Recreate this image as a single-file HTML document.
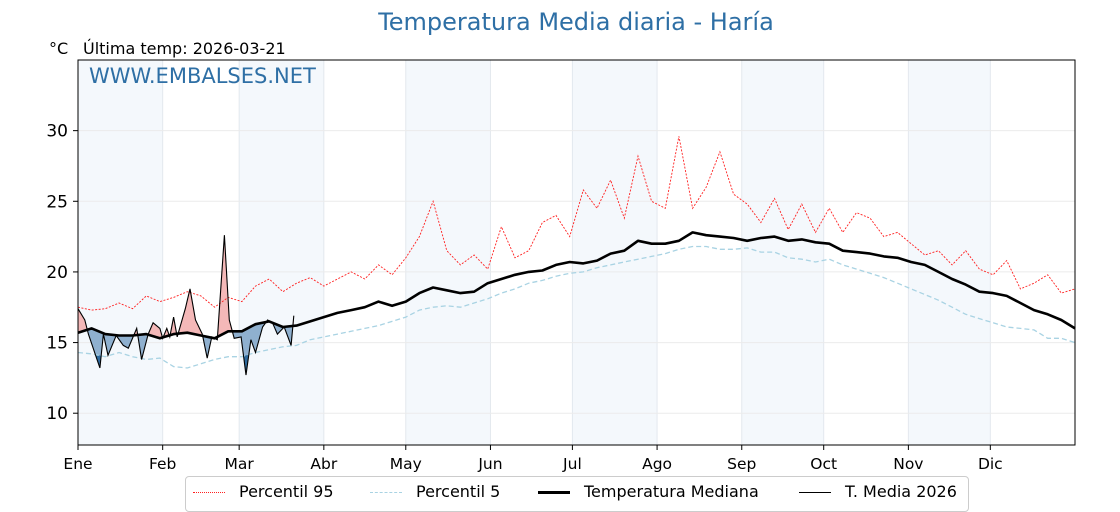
<!DOCTYPE html>
<html><head><meta charset="utf-8"><style>
body{margin:0;background:#fff;width:1120px;height:500px;overflow:hidden;font-family:"DejaVu Sans","Liberation Sans",sans-serif}
svg text{font-family:"DejaVu Sans","Liberation Sans",sans-serif}
</style></head><body>
<svg id="c" width="1120" height="500" xmlns="http://www.w3.org/2000/svg"></svg>
<script>
const months=["Ene","Feb","Mar","Abr","May","Jun","Jul","Ago","Sep","Oct","Nov","Dic"];
const monthStarts=[0,31,59,90,120,151,181,212,243,273,304,334];
const yTicks=[10,15,20,25,30];
const step=5;
const median=[15.7,16,15.6,15.5,15.5,15.6,15.3,15.6,15.7,15.5,15.3,15.8,15.8,16.3,16.5,16.1,16.2,16.5,16.8,17.1,17.3,17.5,17.9,17.6,17.9,18.5,18.9,18.7,18.5,18.6,19.2,19.5,19.8,20,20.1,20.5,20.7,20.6,20.8,21.3,21.5,22.2,22,22,22.2,22.8,22.6,22.5,22.4,22.2,22.4,22.5,22.2,22.3,22.1,22,21.5,21.4,21.3,21.1,21,20.7,20.5,20,19.5,19.1,18.6,18.5,18.3,17.8,17.3,17.0,16.6,16.0];
const p95=[17.5,17.3,17.4,17.8,17.4,18.3,17.9,18.2,18.6,18.3,17.5,18.2,17.9,19.0,19.5,18.6,19.2,19.6,19.0,19.5,20.0,19.5,20.5,19.8,21.0,22.5,25.0,21.5,20.5,21.2,20.2,23.2,21.0,21.5,23.5,24.0,22.5,25.8,24.5,26.5,23.8,28.2,25.0,24.5,29.6,24.5,26.0,28.5,25.5,24.8,23.5,25.2,23.0,24.8,22.8,24.5,22.8,24.2,23.8,22.5,22.8,22.0,21.2,21.5,20.5,21.5,20.2,19.8,20.8,18.8,19.2,19.8,18.5,18.8];
const p5=[14.3,14.2,14.0,14.3,14.0,13.8,13.9,13.3,13.2,13.5,13.8,14.0,14.0,14.3,14.5,14.7,14.8,15.2,15.4,15.6,15.8,16.0,16.2,16.5,16.8,17.3,17.5,17.6,17.5,17.8,18.1,18.5,18.8,19.2,19.4,19.7,19.9,20.0,20.3,20.5,20.7,20.9,21.1,21.3,21.6,21.8,21.8,21.6,21.6,21.7,21.4,21.4,21.0,20.9,20.7,20.9,20.5,20.2,19.9,19.6,19.2,18.8,18.4,18.0,17.5,17.0,16.7,16.4,16.1,16.0,15.9,15.3,15.3,15.0];
const days2026=[0,2.5,3.8,8,9.3,11,14,16.6,18.4,21.5,23.3,25.7,27.5,30,31,32.5,33.6,35,36.3,39.3,41,43,45.5,47.3,49,51,53.6,55.4,57.2,59.7,61.5,63.3,65,67.6,69.4,71.2,73,75.5,78,79];
const temps2026=[17.4,16.6,15.6,13.2,15.6,14.1,15.5,14.8,14.6,16.0,13.8,15.6,16.4,16.0,15.3,16.0,15.4,16.8,15.4,17.4,18.8,16.6,15.6,13.9,15.4,15.2,22.6,16.6,15.3,15.4,12.7,15.2,14.3,16.1,16.6,16.4,15.6,16.1,14.8,16.9];

const NS="http://www.w3.org/2000/svg",svg=document.getElementById('c');
const L=78,R=1075,T=60,B=445,ymin=7.75,ymax=35;
const X=d=>L+d/365*(R-L), Y=v=>B-(v-ymin)/(ymax-ymin)*(B-T);
function el(t,a,p){const e=document.createElementNS(NS,t);for(const k in a)e.setAttribute(k,a[k]);(p||svg).appendChild(e);return e;}
function interp(xs,ys,d){if(d<=xs[0])return ys[0];for(let i=1;i<xs.length;i++)if(d<=xs[i]){const f=(d-xs[i-1])/(xs[i]-xs[i-1]);return ys[i-1]+f*(ys[i]-ys[i-1]);}return ys[ys.length-1];}
const sDays=median.map((_,i)=>i*step);
// shading
monthStarts.forEach((m,i)=>{if(i%2==0){const e=months[i+1]!==undefined?monthStarts[i+1]:365;
const r=el('rect',{x:X(m),y:T,width:X(e)-X(m),height:B-T,fill:'#f4f8fc'});

}});
monthStarts.forEach((m,i)=>{const l=el('line',{x1:X(m),x2:X(m),y1:T,y2:B,stroke:'#e3e8ee','stroke-width':1});

});
yTicks.forEach(v=>{const l=el('line',{x1:L,x2:R,y1:Y(v),y2:Y(v),stroke:'#ebebeb','stroke-width':1});


const t=el('line',{x1:L-5,x2:L,y1:Y(v),y2:Y(v),stroke:'#000'});


const tx=el('text',{x:L-10,y:Y(v)+6,'text-anchor':'end','font-size':17,fill:'#000'});tx.textContent=v;

});
monthStarts.forEach((m,i)=>{const t=el('line',{x1:X(m),x2:X(m),y1:B,y2:B+5,stroke:'#000'});


const tx=el('text',{x:X(m),y:B+24,'text-anchor':'middle','font-size':15.5,fill:'#000'});tx.textContent=months[i];

});
// fills
const last=days2026[days2026.length-1];
const fine=[];for(let d=0;d<=last+1e-9;d+=0.25)fine.push(d);
function fillPoly(cond,color,name,ref){
  let seg=[];const segs=[];
  fine.forEach(d=>{const t=interp(days2026,temps2026,d),m=ref(d);
    if(cond(t,m)){seg.push([d,t,m]);}else if(seg.length){segs.push(seg);seg=[];}});
  if(seg.length)segs.push(seg);
  segs.forEach(s=>{let pts=s.map(p=>X(p[0])+','+Y(p[1]));pts=pts.concat(s.slice().reverse().map(p=>X(p[0])+','+Y(p[2])));
    const p=el('polygon',{points:pts.join(' '),fill:color});
    
    });
}
const medF=d=>interp(sDays,median,d), p5F=d=>interp(sDays,p5,d);
fillPoly((t,m)=>t>m,'#f4b8b8','above-median-fill',medF);
fillPoly((t,m)=>t<m,'#8fb0cf','below-median-fill',medF);
fillPoly((t,m)=>t<m,'#2e6a9e','below-p5-fill',p5F);
// lines
function line(xs,ys,attrs,name){const d=xs.map((x,i)=>(i?'L':'M')+X(x).toFixed(1)+','+Y(ys[i]).toFixed(1)).join('');
 const p=el('path',Object.assign({d:d,fill:'none'},attrs));
 
 }
line(sDays,p5,{stroke:'#a9d3e3','stroke-width':1.3,'stroke-dasharray':'5,3'},'percentile-5-line');
line(sDays,p95,{stroke:'#ff2020','stroke-width':0.9,'stroke-dasharray':'2,1.5'},'percentile-95-line');
line(sDays,median,{stroke:'#000','stroke-width':2.6,'stroke-linejoin':'round'},'median-line');
line(days2026,temps2026,{stroke:'#000','stroke-width':1.1},'temp-2026-line');
const fr=el('rect',{x:L,y:T,width:R-L,height:B-T,fill:'none',stroke:'#000','stroke-width':1});


</script>
<div style="position:absolute;left:0;width:1152px;top:8px;text-align:center;font-size:24px;color:#2e6fa5">Temperatura Media diaria - Haría</div>
<div style="position:absolute;left:49px;top:39px;font-size:16px">°C</div>
<div style="position:absolute;left:83px;top:39px;font-size:16px">Última temp: 2026-03-21</div>
<div style="position:absolute;left:89px;top:64px;font-size:21px;color:#2e6fa5">WWW.EMBALSES.NET</div>
<div style="position:absolute;left:185px;top:476px;width:782px;height:34px;border:1px solid #ccc;border-radius:4px;background:#fff;font-size:16px">
 <div style="position:absolute;left:7px;top:5px;white-space:nowrap"><span style="display:inline-block;width:32px;border-top:1px dotted #ff2020;vertical-align:middle;margin-right:14px"></span>Percentil 95</div>
 <div style="position:absolute;left:184px;top:5px;white-space:nowrap"><span style="display:inline-block;width:32px;border-top:1.3px dashed #a9d3e3;vertical-align:middle;margin-right:14px"></span>Percentil 5</div>
 <div style="position:absolute;left:352px;top:5px;white-space:nowrap"><span style="display:inline-block;width:32px;border-top:3px solid #000;vertical-align:middle;margin-right:14px"></span>Temperatura Mediana</div>
 <div style="position:absolute;left:613px;top:5px;white-space:nowrap"><span style="display:inline-block;width:32px;border-top:1px solid #000;vertical-align:middle;margin-right:14px"></span>T. Media 2026</div>
</div>
</body></html>
